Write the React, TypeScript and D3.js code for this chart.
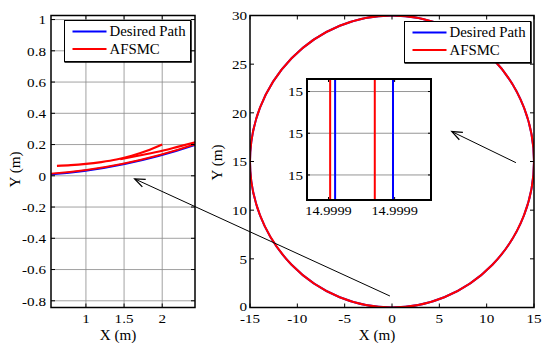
import React from "react";
import * as d3 from "d3";

const FONT = "Liberation Serif, Times New Roman, DejaVu Serif, serif";

// ---- data ----
const leftXTicks = [1, 1.5, 2];
const leftYTicks = [-0.8, -0.6, -0.4, -0.2, 0, 0.2, 0.4, 0.6, 0.8, 1];
const leftXDomain = [0.542, 2.43];
const leftYDomain = [-0.843, 1.026];

const rightXTicks = [-15, -10, -5, 0, 5, 10, 15];
const rightYTicks = [0, 5, 10, 15, 20, 25, 30];
const rightXDomain = [-15, 15];
const rightYDomain = [0, 30];

const desiredCenter = [0, 15];
const desiredRadius = 15;
const afsmcCenter = [0, 15.004];
const afsmcRadius = 15;

// initial transient of the AFSMC trajectory (zoomed view)
const afsmcStartX = [0.62, 0.8, 1.0, 1.2, 1.4, 1.6, 1.8, 2.0];
const afsmcStartY = [0.064, 0.068, 0.076, 0.088, 0.104, 0.128, 0.16, 0.2];
const afsmcMidX = [1.45, 1.7, 2.0, 2.2, 2.45];
const afsmcMidY = [0.106, 0.13, 0.16, 0.185, 0.217];

// inset
const insetXDomain = [14.999867, 14.999942];
const insetYDomain = [14.99984, 15.00013];
const insetXTicks = [14.99988, 14.99992];
const insetYTicks = [14.9999, 15.0, 15.0001];
const insetDesiredX = [14.999884, 14.999919];
const insetAfsmcX = [14.999881, 14.999908];

const legendLabels = ["Desired Path", "AFSMC"];
const seriesColors = ["#0000ff", "#ff0000"];

// annotation arrows
const arrow1Tail = [-0.22, 1.18]; // right plot coords
const arrow1Tip = [1.64, -0.02]; // left plot coords
const arrow2Tail = [13.09, 14.88]; // right plot coords
const arrow2Tip = [6.33, 18.07]; // right plot coords

const fmt = (v: number) => d3.format("~g")(v).replace("\u2212", "-");

// text with a slight horizontal stretch, like the reference rendering
function T({ x, y, anchor = "middle", fs = 13.5, sx = 1.12, dy = "0", rotate = 0, children }: any) {
  return (
    <text
      transform={`translate(${x},${y}) rotate(${rotate}) scale(${sx},1)`}
      textAnchor={anchor}
      dy={dy}
      style={{ fontFamily: FONT }}
      fontSize={fs}
      fill="#000"
    >
      {children}
    </text>
  );
}

function Grid({ x, y, xTicks, yTicks }: any) {
  const [x0, x1] = x.range();
  const [y0, y1] = y.range();
  return (
    <g>
      {xTicks.map((t: number) => (
        <line key={"gx" + t} x1={x(t)} x2={x(t)} y1={y0} y2={y1} stroke="#8a8a8a" strokeWidth={0.8} />
      ))}
      {yTicks.map((t: number) => (
        <line key={"gy" + t} x1={x0} x2={x1} y1={y(t)} y2={y(t)} stroke="#8a8a8a" strokeWidth={0.8} />
      ))}
    </g>
  );
}

function Frame({ x, y, xTicks, yTicks, xFmt, yFmt, lw = 1.5, tick = 4, xLabelY, yLabelX }: any) {
  const [x0, x1] = x.range();
  const [y0, y1] = y.range();
  return (
    <g>
      {xTicks.map((t: number) => (
        <g key={"tx" + t}>
          <line x1={x(t)} x2={x(t)} y1={y0} y2={y0 - tick} stroke="#000" strokeWidth={1} />
          <line x1={x(t)} x2={x(t)} y1={y1} y2={y1 + tick} stroke="#000" strokeWidth={1} />
          <T x={x(t)} y={xLabelY}>{xFmt(t)}</T>
        </g>
      ))}
      {yTicks.map((t: number, i: number) => (
        <g key={"ty" + i}>
          <line x1={x0} x2={x0 + tick} y1={y(t)} y2={y(t)} stroke="#000" strokeWidth={1} />
          <line x1={x1} x2={x1 - tick} y1={y(t)} y2={y(t)} stroke="#000" strokeWidth={1} />
          <T x={yLabelX} y={y(t) - (t === 0 && yLabelX > 200 ? 1 : 0)} dy="0.35em" anchor="end">{yFmt(t)}</T>
        </g>
      ))}
      <rect x={x0} y={y1} width={x1 - x0} height={y0 - y1} fill="none" stroke="#000" strokeWidth={lw} />
    </g>
  );
}

function Legend({ x, y, w, h }: any) {
  return (
    <g>
      <rect x={x} y={y} width={w} height={h} fill="#fff" stroke="#000" strokeWidth={1} />
      <line x1={x + w + 0.5} x2={x + w + 0.5} y1={y} y2={y + h + 1} stroke="#000" strokeWidth={1.5} />
      <line x1={x} x2={x + w + 1} y1={y + h + 0.5} y2={y + h + 0.5} stroke="#000" strokeWidth={1.5} />
      {legendLabels.map((l, i) => (
        <g key={l}>
          <line x1={x + 8} x2={x + 42} y1={y + 11 + i * 17.5} y2={y + 11 + i * 17.5} stroke={seriesColors[i]} strokeWidth={2} />
          <T x={x + 45} y={y + 11 + i * 17.5} dy="0.35em" anchor="start" fs={14} sx={1.06}>{l}</T>
        </g>
      ))}
    </g>
  );
}

function Arrow({ x1, y1, x2, y2 }: any) {
  const a = Math.atan2(y1 - y2, x1 - x2);
  const L = 11, s = 0.38;
  return (
    <g stroke="#000" strokeWidth={1} fill="none">
      <line x1={x1} y1={y1} x2={x2} y2={y2} />
      <path
        d={`M${x2 + L * Math.cos(a + s)},${y2 + L * Math.sin(a + s)} L${x2},${y2} L${x2 + L * Math.cos(a - s)},${y2 + L * Math.sin(a - s)}`}
        strokeWidth={1.3}
      />
    </g>
  );
}

export default function App() {
  const top = 15.5, bottom = 307.5;
  const xL = d3.scaleLinear().domain(leftXDomain).range([51, 195]);
  const yL = d3.scaleLinear().domain(leftYDomain).range([bottom, top]);
  const xR = d3.scaleLinear().domain(rightXDomain).range([250, 534]);
  const yR = d3.scaleLinear().domain(rightYDomain).range([bottom, top]);
  const xI = d3.scaleLinear().domain(insetXDomain).range([307, 431]);
  const yI = d3.scaleLinear().domain(insetYDomain).range([200, 79]);

  const line = (xs: number[], ys: number[]) =>
    d3.line<number>().x((_, i) => xL(xs[i])).y((_, i) => yL(ys[i])).curve(d3.curveMonotoneX)(xs.map((_, i) => i)) || "";

  const ell = (xs: any, ys: any, c: number[], r: number) => ({
    cx: xs(c[0]),
    cy: ys(c[1]),
    rx: Math.abs(xs(c[0] + r) - xs(c[0])),
    ry: Math.abs(ys(c[1] + r) - ys(c[1])),
  });

  return (
    <svg width={542} height={343} style={{ position: "absolute", left: 0, top: 0, background: "#fff" }}>
      <defs>
        <clipPath id="clipL">
          <rect x={51} y={top} width={144} height={bottom - top} />
        </clipPath>
        <clipPath id="clipR">
          <rect x={250} y={top} width={284} height={bottom - top} />
        </clipPath>
      </defs>
      <rect width={542} height={343} fill="#fff" />

      {/* Left plot */}
      <Grid x={xL} y={yL} xTicks={leftXTicks} yTicks={leftYTicks} />
      <g clipPath="url(#clipL)" fill="none">
        <ellipse {...ell(xL, yL, desiredCenter, desiredRadius)} stroke={seriesColors[0]} strokeWidth={2} />
        <ellipse {...ell(xL, yL, afsmcCenter, afsmcRadius)} stroke={seriesColors[1]} strokeWidth={1.8} />
        <path d={line(afsmcStartX, afsmcStartY)} stroke={seriesColors[1]} strokeWidth={2.2} />
        <path d={line(afsmcMidX, afsmcMidY)} stroke={seriesColors[1]} strokeWidth={2.2} />
      </g>
      <Frame x={xL} y={yL} xTicks={leftXTicks} yTicks={leftYTicks} xFmt={fmt} yFmt={fmt} xLabelY={323} yLabelX={46} />
      <Legend x={64.5} y={20.5} w={126} h={41} />
      <T x={118} y={340} fs={14} sx={1.08}>X (m)</T>
      <T x={20} y={(top + bottom) / 2 + 8} fs={14} sx={1.08} rotate={-90}>Y (m)</T>

      {/* Right plot */}
      <g clipPath="url(#clipR)" fill="none">
        <ellipse {...ell(xR, yR, desiredCenter, desiredRadius)} stroke={seriesColors[0]} strokeWidth={2} />
        <ellipse {...ell(xR, yR, afsmcCenter, afsmcRadius)} stroke={seriesColors[1]} strokeWidth={2} />
      </g>
      <Frame x={xR} y={yR} xTicks={rightXTicks} yTicks={rightYTicks} xFmt={fmt} yFmt={fmt} xLabelY={323} yLabelX={247} />
      <Legend x={404.5} y={21.5} w={126} h={41} />
      <T x={377} y={340} fs={14} sx={1.08}>X (m)</T>
      <T x={222} y={(top + bottom) / 2 + 1} fs={14} sx={1.08} rotate={-90}>Y (m)</T>

      {/* Inset */}
      <rect x={307} y={79} width={124} height={121} fill="#fff" />
      {insetYTicks.map((t) => (
        <line key={"ig" + t} x1={307} x2={431} y1={yI(t)} y2={yI(t)} stroke="#8a8a8a" strokeWidth={0.9} />
      ))}
      {insetDesiredX.map((v) => (
        <line key={"id" + v} x1={xI(v)} x2={xI(v)} y1={79} y2={200} stroke={seriesColors[0]} strokeWidth={2} />
      ))}
      {insetAfsmcX.map((v) => (
        <line key={"ia" + v} x1={xI(v)} x2={xI(v)} y1={79} y2={200} stroke={seriesColors[1]} strokeWidth={2} />
      ))}
      {insetXTicks.map((t) => (
        <g key={"ixt" + t}>
          <line x1={xI(t)} x2={xI(t)} y1={200} y2={197} stroke="#000" />
          <line x1={xI(t)} x2={xI(t)} y1={79} y2={82} stroke="#000" />
          <T x={xI(t)} y={215} sx={1.06}>{d3.format(".4f")(t)}</T>
        </g>
      ))}
      {insetYTicks.map((t) => (
        <g key={"iyt" + t}>
          <line x1={307} x2={310} y1={yI(t)} y2={yI(t)} stroke="#000" />
          <line x1={431} x2={428} y1={yI(t)} y2={yI(t)} stroke="#000" />
          <T x={303} y={yI(t)} dy="0.35em" anchor="end">{d3.format(".0f")(t)}</T>
        </g>
      ))}
      <rect x={307} y={79} width={124} height={121} fill="none" stroke="#000" strokeWidth={2} />

      {/* Annotation arrows */}
      <Arrow x1={xR(arrow1Tail[0])} y1={yR(arrow1Tail[1])} x2={xL(arrow1Tip[0])} y2={yL(arrow1Tip[1])} />
      <Arrow x1={xR(arrow2Tail[0])} y1={yR(arrow2Tail[1])} x2={xR(arrow2Tip[0])} y2={yR(arrow2Tip[1])} />
    </svg>
  );
}
